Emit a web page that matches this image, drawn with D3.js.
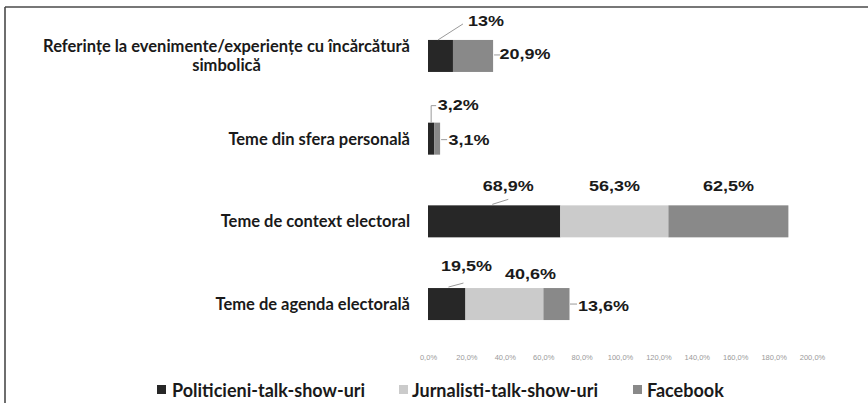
<!DOCTYPE html>
<html>
<head>
<meta charset="utf-8">
<script src="https://cdn.jsdelivr.net/npm/d3@7"></script>
<style>
  html, body { margin: 0; padding: 0; background: #fff; }
  svg { display: block; }
</style>
</head>
<body>
<svg id="chart" width="868" height="403"></svg>
<script>
// Categories (top to bottom) and the three stacked series, in percent
const categories = [
  "Referințe la evenimente/experiențe cu încărcătură simbolică",
  "Teme din sfera personală",
  "Teme de context electoral",
  "Teme de agenda electorală"
];
const categoryLines = [
  ["Referințe la evenimente/experiențe cu încărcătură", "simbolică"],
  ["Teme din sfera personală"],
  ["Teme de context electoral"],
  ["Teme de agenda electorală"]
];
const seriesNames = ["Politicieni-talk-show-uri", "Jurnalisti-talk-show-uri", "Facebook"];
const politicieni = [13, 3.2, 68.9, 19.5];
const jurnalisti  = [0, 0, 56.3, 40.6];
const facebook    = [20.9, 3.1, 62.5, 13.6];
const tickValues  = [0, 20, 40, 60, 80, 100, 120, 140, 160, 180, 200];

const colors = ["#272727", "#cbcbcb", "#898989"];
const seriesKeys = ["s0", "s1", "s2"];

// Manual label placement (offset of label centre from the segment's right end
// and the band centre), plus optional leader line points in the same frame.
const labelLayout = {
  "0-0": { dx: 33, dy: -35, leader: [[-15, -16], [10, -32]] },
  "0-2": { dx: 32, dy: -2,  leader: [[1, -1], [7, -1]] },
  "1-0": { dx: 24, dy: -33.5, leader: [[-3, -16], [-3, -33], [2, -33]] },
  "1-2": { dx: 29, dy: 1.5, leader: [[1, 1], [7, 1]] },
  "2-0": { dx: -52, dy: -35, leader: [[-68, -17], [-52, -22]] },
  "2-1": { dx: -54, dy: -35 },
  "2-2": { dx: -60, dy: -35 },
  "3-0": { dx: 1, dy: -38, leader: [[-17, -17], [-2, -21]] },
  "3-1": { dx: -13, dy: -30 },
  "3-2": { dx: 34, dy: 2, leader: [[0.5, 0], [7.5, 0]] }
};

const svg = d3.select("#chart");

// Frame lines (top and left edge)
svg.append("line").attr("x1", 5).attr("x2", 868).attr("y1", 7).attr("y2", 7)
  .attr("stroke", "#4a4a4a").attr("stroke-width", 1.6);
svg.append("line").attr("x1", 5).attr("x2", 5).attr("y1", 7).attr("y2", 403)
  .attr("stroke", "#4a4a4a").attr("stroke-width", 1.6);

const x = d3.scaleLinear().domain([0, 200]).range([428, 812]);
const y = d3.scaleBand().domain(categories).range([14.6, 345.4])
  .paddingInner(0.613).paddingOuter(0.3065);

const table = categories.map((c, i) => ({
  category: c,
  s0: politicieni[i], s1: jurnalisti[i], s2: facebook[i]
}));
const stacked = d3.stack().keys(seriesKeys)(table);

// Bars
stacked.forEach((layer, si) => {
  svg.append("g")
    .selectAll("rect")
    .data(layer.filter(d => d.data[seriesKeys[si]] > 0))
    .join("rect")
    .attr("x", d => x(d[0]))
    .attr("y", d => y(d.data.category))
    .attr("width", d => x(d[1]) - x(d[0]))
    .attr("height", y.bandwidth())
    .attr("fill", colors[si]);
});

// Data labels with leader lines
const fmt = v => String(v).replace(".", ",") + "%";
const labelsG = svg.append("g");
stacked.forEach((layer, si) => {
  layer.forEach((d, ci) => {
    const v = d.data[seriesKeys[si]];
    if (v <= 0) return;
    const lay = labelLayout[ci + "-" + si];
    if (!lay) return;
    const bx = x(d[1]);
    const by = y(d.data.category) + y.bandwidth() / 2;
    if (lay.leader) {
      labelsG.append("polyline")
        .attr("points", lay.leader.map(p => (bx + p[0]) + "," + (by + p[1])).join(" "))
        .attr("fill", "none")
        .attr("stroke", "#9a9a9a")
        .attr("stroke-width", 1);
    }
    labelsG.append("text")
      .attr("transform", `translate(${bx + lay.dx},${by + lay.dy}) scale(1.2,1)`)
      .attr("text-anchor", "middle")
      .attr("dominant-baseline", "central")
      .attr("font-family", "'Liberation Sans', Arial, sans-serif")
      .attr("font-weight", "bold")
      .attr("font-size", 15)
      .attr("fill", "#1a1a1a")
      .text(fmt(v));
  });
});

// Category labels
const catFont = "Lato, 'Open Sans', sans-serif";
const catSize = 16.5;
const catG = svg.append("g");
categories.forEach((c, i) => {
  const lines = categoryLines[i];
  const cy = y(c) + y.bandwidth() / 2;
  const lh = 19;
  const t = catG.append("text")
    .attr("font-family", catFont)
    .attr("font-weight", "bold")
    .attr("font-size", catSize)
    .attr("fill", "#1a1a1a")
    .attr("dominant-baseline", "central");
  if (lines.length === 1) {
    t.attr("x", 410).attr("y", cy).attr("text-anchor", "end").text(lines[0]);
  } else {
    t.attr("text-anchor", "middle");
    // measure the first line so the wrapped lines are centred under it
    const probe = catG.append("text")
      .attr("font-family", catFont)
      .attr("font-weight", "bold").attr("font-size", catSize).text(lines[0]);
    const w = probe.node().getComputedTextLength();
    probe.remove();
    const midX = 410 - w / 2;
    lines.forEach((ln, k) => {
      t.append("tspan")
        .attr("x", midX)
        .attr("y", cy + (k - (lines.length - 1) / 2) * lh)
        .text(ln);
    });
  }
});

// Value axis tick labels (no axis line)
const axis = d3.axisBottom(x)
  .tickValues(tickValues)
  .tickSize(0)
  .tickFormat(d => d.toFixed(1).replace(".", ",") + "%");
const axG = svg.append("g").attr("transform", "translate(0,352)").call(axis);
axG.select(".domain").remove();
axG.selectAll("text")
  .attr("font-family", "'Liberation Sans', Arial, sans-serif")
  .attr("font-size", 7.5)
  .attr("fill", "#9a9a9a");

// Legend
const legendItems = [
  { name: seriesNames[0], sx: 157, tx: 172 },
  { name: seriesNames[1], sx: 399, tx: 412 },
  { name: seriesNames[2], sx: 633, tx: 647 }
];
const lg = svg.append("g");
legendItems.forEach((it, i) => {
  lg.append("rect").attr("x", it.sx).attr("y", 385).attr("width", 9).attr("height", 9)
    .attr("fill", colors[i]);
  lg.append("text")
    .attr("x", it.tx).attr("y", 390)
    .attr("dominant-baseline", "central")
    .attr("font-family", "Lato, 'Open Sans', sans-serif")
    .attr("font-weight", "bold")
    .attr("font-size", 18)
    .attr("fill", "#1a1a1a")
    .text(it.name);
});
</script>
</body>
</html>
